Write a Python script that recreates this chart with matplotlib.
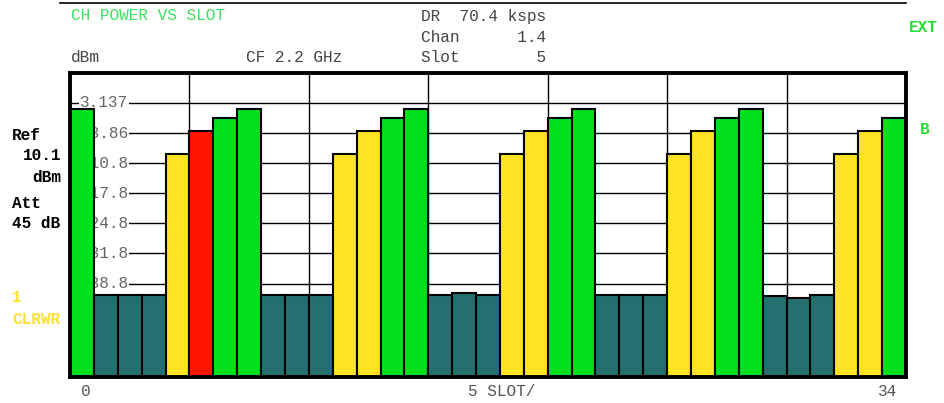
import matplotlib
matplotlib.use("Agg")
import matplotlib.pyplot as plt
from matplotlib.lines import Line2D

# Channel power per slot (dBm), slots 0..34
slots = list(range(35))
power_dbm = [
    1.68, -41.64, -41.64, -41.64, -8.69, -3.29, -0.41,
    1.68, -41.64, -41.64, -41.64, -8.69, -3.29, -0.41,
    1.68, -41.64, -41.18, -41.64, -8.69, -3.29, -0.41,
    1.68, -41.64, -41.64, -41.64, -8.69, -3.29, -0.41,
    1.68, -41.70, -42.20, -41.50, -8.69, -3.29, -0.41,
]
# slot class: g=high, t=inactive, y=ramp, r=selected slot
slot_class = list("gtttyrg" "gtttyyg" "gtttyyg" "gtttyyg" "gtttyyg")
ytick_values = [3.137, -3.863, -10.863, -17.863, -24.863, -31.863, -38.863]
ytick_labels = ["3.137", "-3.86", "-10.8", "-17.8", "-24.8", "-31.8", "-38.8"]
ref_level = 10.1
bottom_level = -60.6

colors = {"g": "#00E01C", "t": "#23706F", "y": "#FFE424", "r": "#FF1400"}
FONT = "Liberation Mono"
FS = 11.6

fig = plt.figure(figsize=(9.45, 4.03), dpi=100)
W, H = 945, 403
x0, x1, y0, y1 = 70, 906, 73, 377
ax = fig.add_axes([x0 / W, 1 - y1 / H, (x1 - x0) / W, (y1 - y0) / H])
ax.set_xlim(0, 35)
ax.set_ylim(bottom_level, ref_level)

# grid
for v in ytick_values:
    ax.axhline(v, color="black", lw=1.0, zorder=1)
for xv in range(5, 35, 5):
    ax.axvline(xv, color="black", lw=1.0, zorder=1)

# level labels with white background over the gridlines
for v, s in zip(ytick_values, ytick_labels):
    ax.text(2.43, v, s, ha="right", va="center", fontsize=FS, family=FONT,
            color="#666666", zorder=2,
            bbox=dict(facecolor="white", edgecolor="none", pad=0.5))

# bars
heights = [p - bottom_level for p in power_dbm]
ax.bar(slots, heights, width=1.0, bottom=bottom_level, align="edge",
       color=[colors[c] for c in slot_class], edgecolor="black",
       linewidth=1.5, zorder=3)

ax.set_xticks([])
ax.set_yticks([])
for sp in ax.spines.values():
    sp.set_linewidth(2.8)
    sp.set_zorder(5)

def ftext(x, y, s, color="#444444", weight="normal", size=FS, ha="left"):
    fig.text(x / W, 1 - y / H, s, color=color, fontsize=size, family=FONT,
             weight=weight, ha=ha, va="center")

# header line
fig.add_artist(Line2D([60 / W, 906 / W], [1 - 3 / H, 1 - 3 / H],
                      color="black", lw=1.2))

ftext(71, 16, "CH POWER VS SLOT", color="#3FE060")
ftext(421, 16, "DR  70.4 ksps")
ftext(421, 37, "Chan      1.4")
ftext(421, 58, "Slot        5")
ftext(71, 58, "dBm")
ftext(246, 58, "CF 2.2 GHz")
ftext(909, 28, "EXT", color="#22DD33", weight="bold")
ftext(920, 130, "B", color="#22DD33", weight="bold")

ftext(12, 135, "Ref", color="black", weight="bold")
ftext(23, 156, "10.1", color="black", weight="bold")
ftext(32, 177, "dBm", color="black", weight="bold")
ftext(12, 203, "Att", color="black", weight="bold")
ftext(12, 224, "45 dB", color="black", weight="bold")
ftext(12, 298, "1", color="#FFE030", weight="bold")
ftext(12, 320, "CLRWR", color="#FFE030", weight="bold")

ftext(81, 392, "0", color="#555555")
ftext(468, 392, "5 SLOT/", color="#555555")
ftext(878, 392, "34", color="#555555")

fig.savefig("out.png", dpi=100)
